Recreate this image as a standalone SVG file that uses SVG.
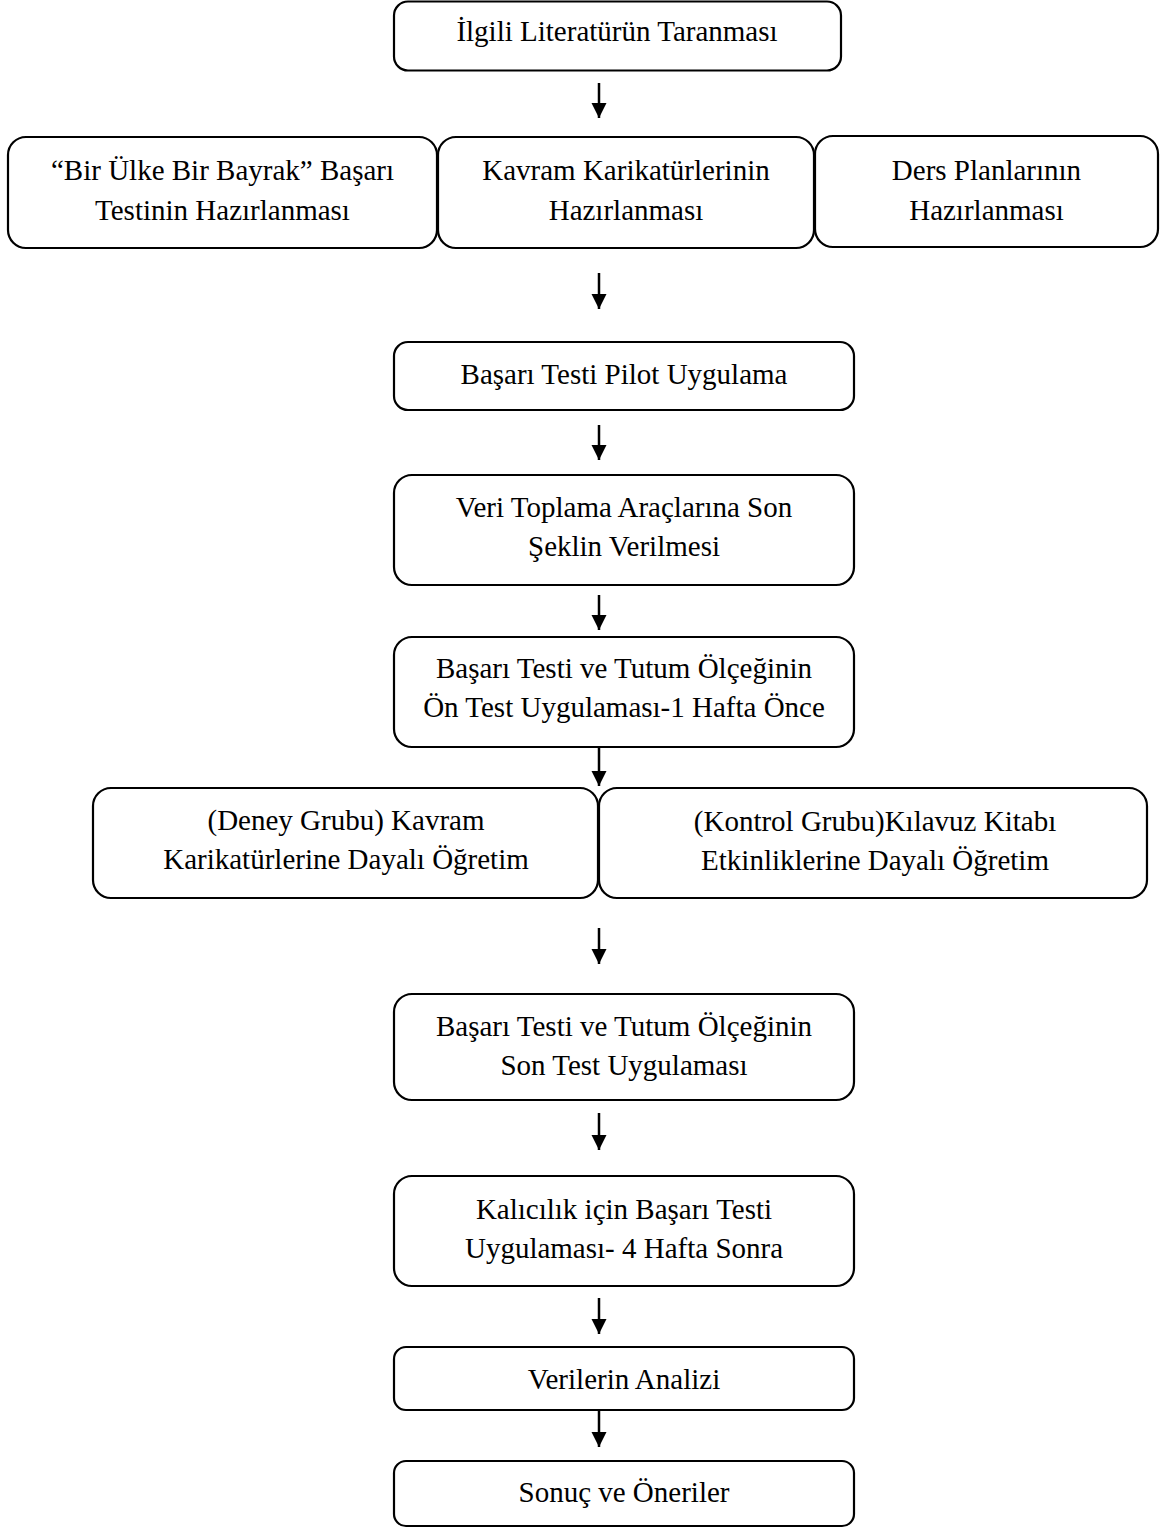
<svg xmlns="http://www.w3.org/2000/svg" width="1169" height="1528" viewBox="0 0 1169 1528">
<style>
.box{fill:#fff;stroke:#000;stroke-width:2.2}
.t{font-family:"Liberation Serif","Times New Roman",serif;font-size:29px;fill:#000;text-anchor:middle}
.c{stroke:#000;stroke-width:2.5;fill:none;marker-end:url(#ah)}
</style>
<defs>
<marker id="ah" markerUnits="userSpaceOnUse" markerWidth="16" markerHeight="16" refX="15" refY="7.5" orient="auto">
<path d="M0,0 L15,7.5 L0,15 z" fill="#000"/>
</marker>
</defs>
<rect width="1169" height="1528" fill="#fff"/>
<g id="connectors">
<line class="c" x1="599" y1="83" x2="599" y2="118"/>
<line class="c" x1="599" y1="273" x2="599" y2="309"/>
<line class="c" x1="599" y1="425" x2="599" y2="460"/>
<line class="c" x1="599" y1="595" x2="599" y2="630"/>
<line class="c" x1="599" y1="747" x2="599" y2="786"/>
<line class="c" x1="599" y1="928" x2="599" y2="964"/>
<line class="c" x1="599" y1="1113" x2="599" y2="1150"/>
<line class="c" x1="599" y1="1298" x2="599" y2="1334"/>
<line class="c" x1="599" y1="1410" x2="599" y2="1447"/>
</g>
<g id="n1"><rect class="box" x="394" y="1.5" width="447" height="69" rx="14"/><text class="t" x="617" y="41">İlgili Literatürün Taranması</text></g>
<g id="n2"><rect class="box" x="8" y="137" width="429" height="111" rx="18"/><text class="t" x="222.5" y="180">“Bir Ülke Bir Bayrak” Başarı</text><text class="t" x="222.5" y="220">Testinin Hazırlanması</text></g>
<g id="n3"><rect class="box" x="438" y="137" width="376" height="111" rx="18"/><text class="t" x="626" y="180">Kavram Karikatürlerinin</text><text class="t" x="626" y="220">Hazırlanması</text></g>
<g id="n4"><rect class="box" x="815" y="136" width="343" height="111" rx="18"/><text class="t" x="986.5" y="180">Ders Planlarının</text><text class="t" x="986.5" y="220">Hazırlanması</text></g>
<g id="n5"><rect class="box" x="394" y="342" width="460" height="68" rx="14"/><text class="t" x="624" y="384">Başarı Testi Pilot Uygulama</text></g>
<g id="n6"><rect class="box" x="394" y="475" width="460" height="110" rx="18"/><text class="t" x="624" y="517">Veri Toplama Araçlarına Son</text><text class="t" x="624" y="556">Şeklin Verilmesi</text></g>
<g id="n7"><rect class="box" x="394" y="637" width="460" height="110" rx="18"/><text class="t" x="624" y="678">Başarı Testi ve Tutum Ölçeğinin</text><text class="t" x="624" y="717">Ön Test Uygulaması-1 Hafta Önce</text></g>
<g id="n8"><rect class="box" x="93" y="788" width="505" height="110" rx="18"/><text class="t" x="346" y="830">(Deney Grubu) Kavram</text><text class="t" x="346" y="869">Karikatürlerine Dayalı Öğretim</text></g>
<g id="n9"><rect class="box" x="599" y="788" width="548" height="110" rx="18"/><text class="t" x="875" y="831">(Kontrol Grubu)Kılavuz Kitabı</text><text class="t" x="875" y="870">Etkinliklerine Dayalı Öğretim</text></g>
<g id="n10"><rect class="box" x="394" y="994" width="460" height="106" rx="18"/><text class="t" x="624" y="1036">Başarı Testi ve Tutum Ölçeğinin</text><text class="t" x="624" y="1075">Son Test Uygulaması</text></g>
<g id="n11"><rect class="box" x="394" y="1176" width="460" height="110" rx="18"/><text class="t" x="624" y="1219">Kalıcılık için Başarı Testi</text><text class="t" x="624" y="1258">Uygulaması- 4 Hafta Sonra</text></g>
<g id="n12"><rect class="box" x="394" y="1347" width="460" height="63" rx="12"/><text class="t" x="624" y="1389">Verilerin Analizi</text></g>
<g id="n13"><rect class="box" x="394" y="1461" width="460" height="65" rx="12"/><text class="t" x="624" y="1502">Sonuç ve Öneriler</text></g>
</svg>
